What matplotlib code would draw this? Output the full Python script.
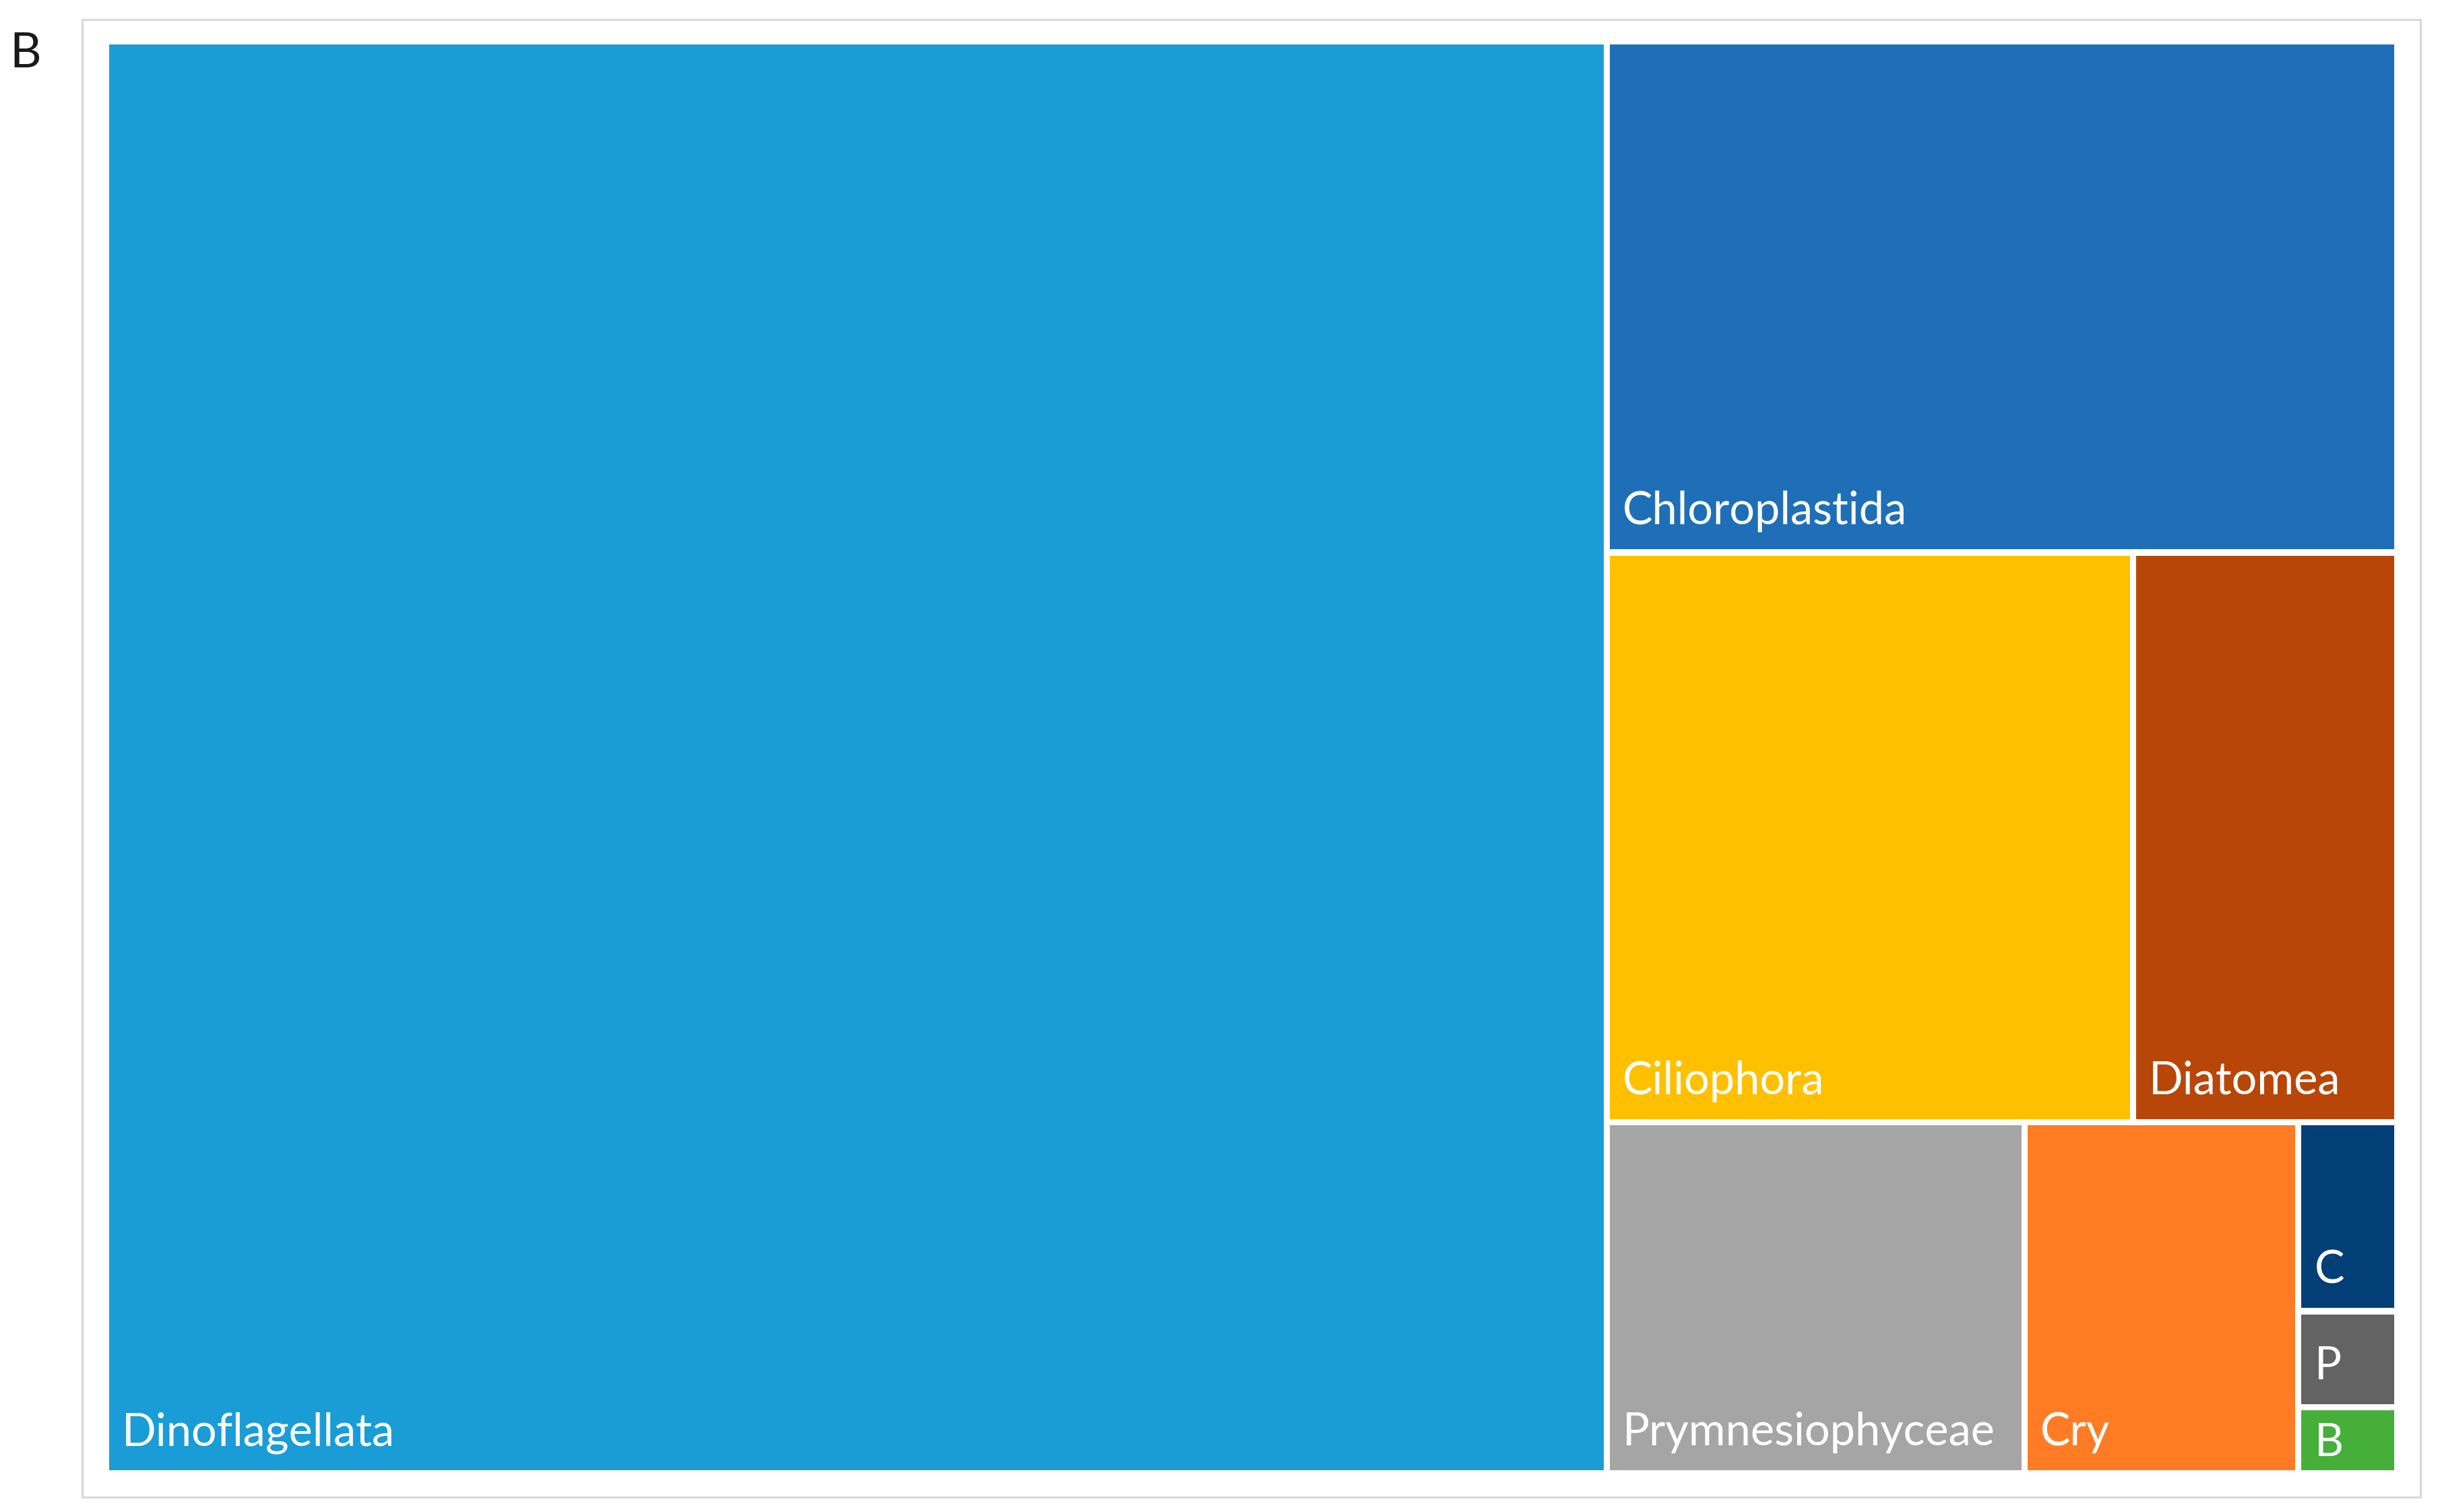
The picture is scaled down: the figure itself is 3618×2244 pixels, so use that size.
import matplotlib
matplotlib.use("Agg")
from matplotlib import pyplot as plt
from matplotlib.patches import Rectangle

# ============================================================================
# Treemap of taxonomic groups (panel B)
# ============================================================================

# Data: share of reads per group (percent), in the order the treemap lays them out
groups = ["Dinoflagellata", "Chloroplastida", "Ciliophora", "Diatomea",
          "Prymnesiophyceae", "Cry", "C", "P", "B"]
shares = [65.5, 12.32, 9.14, 4.59, 4.47, 2.93, 0.57, 0.29, 0.20]
colours = ["#1A9CD7", "#1E6FB7", "#FFC000", "#B84608",
           "#A5A5A5", "#FF7C25", "#033F77", "#636363", "#46AF3A"]

# Figure geometry (pixels, 100 dpi)
figW, figH = 3618, 2244
gap = 9.5                     # white gap between tiles
area = (162 - gap / 2, 66 - gap / 2, 3553 + gap / 2, 2182 + gap / 2)
capHeight = 47                # cap height of the tile labels in px
padLeft, padBottom = 19, 37
ratioSlack = 1.05             # lets a row grow when the aspect barely worsens


# ============================================================================
# Squarified layout (Bruls et al.), returns list of (x0, y0, x1, y1)
# ============================================================================
def worstRatio(rowVals, side, scale):
    s = sum(rowVals) * scale
    thick = s / side
    out = 0
    for v in rowVals:
        length = v * scale / thick
        out = max(out, thick / length, length / thick)
    return out


def squarify(values, x0, y0, x1, y1):
    total = float(sum(values))
    scale = (x1 - x0) * (y1 - y0) / total
    rects = []
    i = 0
    while i < len(values):
        dx, dy = x1 - x0, y1 - y0
        side = min(dx, dy)
        row = [values[i]]
        best = worstRatio(row, side, scale)
        j = i + 1
        while j < len(values):
            newRatio = worstRatio(row + [values[j]], side, scale)
            if newRatio > best * ratioSlack:
                break
            row.append(values[j])
            best = min(best, newRatio)
            j += 1
        thick = sum(row) * scale / side
        pos = 0
        for v in row:
            length = v * scale / thick
            if dx >= dy:
                # column along the left edge
                rects.append((x0, y0 + pos, x0 + thick, y0 + pos + length))
            else:
                # row along the top edge
                rects.append((x0 + pos, y0, x0 + pos + length, y0 + thick))
            pos += length
        if dx >= dy:
            x0 += thick
        else:
            y0 += thick
        i = j
    return rects


fig = plt.figure(figsize=(figW / 100, figH / 100), dpi=100)
ax = fig.add_axes([0, 0, 1, 1])
ax.set_xlim(0, figW)
ax.set_ylim(figH, 0)
ax.axis("off")

# light chart frame
ax.add_patch(Rectangle((122, 29), 3592 - 122, 2222 - 29, facecolor="white",
                       edgecolor="#D9D9D9", linewidth=2.2))

# panel letter
ax.text(14, 100, "B", fontsize=52, family=["Lato", "DejaVu Sans"],
        color="#1A1A1A", ha="left", va="baseline")

tiles = squarify(shares, *area)
for (rx0, ry0, rx1, ry1), name, col in zip(tiles, groups, colours):
    vx0, vy0 = rx0 + gap / 2, ry0 + gap / 2
    vx1, vy1 = rx1 - gap / 2, ry1 - gap / 2
    ax.add_patch(Rectangle((vx0, vy0), vx1 - vx0, vy1 - vy0,
                           facecolor=col, edgecolor="none"))
    # label sits bottom-left, centred when the tile is too short
    if vy1 - vy0 < capHeight + 2 * padBottom:
        base = (vy0 + vy1) / 2 + capHeight / 2
    else:
        base = vy1 - padBottom
    ax.text(vx0 + padLeft, base, name, fontsize=48, color="white",
            family=["Lato", "DejaVu Sans"], ha="left", va="baseline")

fig.savefig("out.png", dpi=100, facecolor="white")
